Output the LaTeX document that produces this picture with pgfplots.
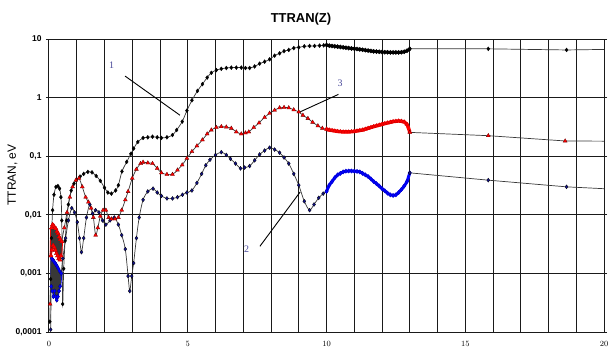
\documentclass[border=0pt]{standalone}
\usepackage{fontspec}
\setmainfont{Liberation Sans}
\newfontfamily\annfont{Liberation Serif}
\usepackage{pgfplots}
\usepackage{pgfplotstable}
\pgfplotsset{compat=1.18}
\definecolor{gridc}{HTML}{1A1A1A}
\definecolor{linec}{HTML}{383838}
\definecolor{navy}{HTML}{10108A}
\definecolor{annc}{HTML}{4A4A9A}
% dense sections (z = 10 ... 13)
\pgfplotstableread{
z    s1    s3     s2
10.0 7.9   0.29   0.025
10.1 7.7   0.28   0.032
10.2 7.6   0.275  0.037
10.3 7.5   0.27   0.043
10.4 7.4   0.265  0.048
10.5 7.3   0.262  0.051
10.6 7.2   0.26   0.054
10.7 7.1   0.26   0.0556
10.8 7.0   0.26   0.056
10.9 6.9   0.262  0.056
11.0 6.85  0.265  0.0556
11.1 6.75  0.27   0.055
11.2 6.65  0.275  0.054
11.3 6.55  0.28   0.051
11.4 6.45  0.29   0.048
11.5 6.35  0.3    0.045
11.6 6.25  0.31   0.041
11.7 6.15  0.32   0.037
11.8 6.1   0.33   0.034
11.9 6.05  0.34   0.031
12.0 6.0   0.35   0.028
12.1 5.95  0.36   0.0257
12.2 5.95  0.37   0.0234
12.3 5.9   0.38   0.0219
12.4 5.9   0.39   0.0214
12.5 5.9   0.395  0.0219
12.6 5.9   0.4    0.024
12.7 5.95  0.395  0.027
12.8 6.05  0.385  0.031
12.9 6.3   0.35   0.037
13.0 6.8   0.26   0.052
}\dense
% dense oscillating start (z = 0 ... 0.46)
\pgfplotstableread{
z    r
0.07 0.002
0.09 0.006
0.11 0.0025
0.13 0.0068
0.15 0.003
0.17 0.0065
0.19 0.0028
0.21 0.006
0.23 0.0025
0.25 0.0058
0.27 0.0022
0.29 0.0052
0.31 0.002
0.33 0.0048
0.35 0.0018
0.37 0.0042
0.39 0.0017
0.41 0.0038
0.43 0.002
0.46 0.0035
}\clusterR
\pgfplotstableread{
z    b
0.08 0.0006
0.1  0.0018
0.12 0.0005
0.14 0.0017
0.16 0.0004
0.18 0.0016
0.2  0.0005
0.22 0.0015
0.24 0.0004
0.26 0.0014
0.28 0.00035
0.30 0.0013
0.32 0.0004
0.34 0.0012
0.36 0.0005
0.38 0.0011
0.40 0.0006
0.44 0.001
}\clusterB
\begin{document}
\begin{tikzpicture}
\begin{axis}[
  at={(0,0)}, anchor=south west,
  scale only axis, width=555bp, height=293bp,
  xmin=0, xmax=20, ymin=1e-4, ymax=10, ymode=log,
  xtick={0,5,10,15,20},
  minor xtick={1,2,3,4,6,7,8,9,11,12,13,14,16,17,18,19},
  ytick={1e-4,1e-3,1e-2,1e-1,1,10},
  yticklabels={{0,0001},{0,001},{0,01},{0,1},1,10},
  yminorticks=false,
  xmajorgrids, xminorgrids, ymajorgrids,
  major grid style={gridc, line width=1bp},
  minor grid style={gridc, line width=1bp},
  axis line style={gridc, line width=1bp},
  tick align=outside,
  xtick style={draw=none},
  minor x tick style={draw=none},
  ytick style={gridc, line width=0.9bp},
  major tick length=3bp,
  ticklabel style={font=\bfseries\fontsize{8.5}{9}\selectfont},
  xticklabel style={yshift=-3bp},
  yticklabel style={xshift=-1bp},
  clip=true,
  every axis plot/.append style={line width=0.7bp},
]
% ---- Series 1 (black diamonds) ----
\addplot[linec, smooth, mark=diamond*, mark size=2bp, mark options={fill=black, draw=black, line width=0.3bp}] coordinates {
(0.03,0.00015) (0.06,0.0008) (0.09,0.004) (0.13,0.012) (0.18,0.022) (0.25,0.03) (0.32,0.031) (0.38,0.028) (0.43,0.02) (0.46,0.008) (0.49,0.0003) (0.53,0.0012) (0.58,0.0036) (0.64,0.008) (0.7,0.015) (0.8,0.026) (0.9,0.034) (1.0,0.04) (1.12,0.045) (1.25,0.05) (1.4,0.054) (1.55,0.053) (1.7,0.046) (1.85,0.038) (2.0,0.029) (2.12,0.024) (2.25,0.023) (2.4,0.026) (2.5,0.032) (2.63,0.055) (2.8,0.08) (2.95,0.11) (3.05,0.135) (3.2,0.175) (3.39,0.205) (3.56,0.21) (3.73,0.215) (3.9,0.21) (4.05,0.205) (4.25,0.21) (4.45,0.23) (4.6,0.28) (4.8,0.39) (4.97,0.6) (5.15,0.9) (5.35,1.3) (5.53,1.7) (5.7,2.2) (5.85,2.65) (6.03,2.95) (6.21,3.1) (6.39,3.2) (6.57,3.25) (6.75,3.25) (6.93,3.25) (7.08,3.2) (7.23,3.2) (7.41,3.4) (7.59,3.8) (7.77,4.1) (7.95,4.5) (8.13,5.2) (8.31,5.7) (8.47,6.2) (8.64,6.5) (8.82,7.0) (9.0,7.2) (9.2,7.5) (9.39,7.6) (9.57,7.6) (9.75,7.7) (9.9,7.8) (10.0,7.9)
};
\addplot[black, smooth, line width=3bp] table[x=z, y=s1] {\dense};
\addplot[black, only marks, mark=diamond*, mark size=2.2bp, mark options={fill=black, draw=black, line width=0.3bp}] table[x=z, y=s1] {\dense};
\addplot[linec, sharp plot, mark=diamond*, mark size=2bp, mark options={fill=black, draw=black, line width=0.3bp}] coordinates {
(13.0,6.8) (15.83,6.8) (18.65,6.5) (20.6,6.7)
};
% ---- Series 2 (blue diamonds) ----
\addplot[blue, sharp plot, line width=2.2bp] table[x=z, y=b] {\clusterB};
\addplot[linec, smooth, mark=diamond*, mark size=2bp, mark options={fill=navy, draw=black, line width=0.3bp}] coordinates {
(0.06,0.00011) (0.08,0.0006) (0.1,0.0018) (0.12,0.0005) (0.14,0.0017) (0.16,0.0004) (0.18,0.0016) (0.2,0.0005) (0.22,0.0015) (0.24,0.0004) (0.26,0.0014) (0.28,0.00035) (0.30,0.0013) (0.32,0.0004) (0.34,0.0012) (0.36,0.0005) (0.38,0.0011) (0.40,0.0006) (0.44,0.001) (0.5,0.0018) (0.6,0.004) (0.7,0.008) (0.82,0.013) (0.92,0.011) (1.02,0.0075) (1.1,0.004) (1.17,0.0023) (1.25,0.004) (1.35,0.009) (1.47,0.015) (1.57,0.0105) (1.68,0.012) (1.8,0.011) (1.93,0.008) (2.05,0.0068) (2.2,0.008) (2.35,0.009) (2.5,0.0068) (2.62,0.0045) (2.75,0.0026) (2.85,0.0009) (2.91,0.0005) (2.98,0.0009) (3.05,0.0015) (3.15,0.004) (3.25,0.009) (3.39,0.018) (3.56,0.025) (3.75,0.028) (3.9,0.024) (4.05,0.021) (4.25,0.019) (4.45,0.019) (4.63,0.02) (4.81,0.022) (4.97,0.024) (5.15,0.026) (5.33,0.035) (5.5,0.05) (5.65,0.07) (5.8,0.087) (6.0,0.105) (6.21,0.117) (6.39,0.105) (6.54,0.09) (6.72,0.075) (6.9,0.062) (7.05,0.064) (7.23,0.068) (7.41,0.085) (7.59,0.107) (7.77,0.125) (7.95,0.14) (8.13,0.13) (8.31,0.115) (8.47,0.095) (8.64,0.075) (8.82,0.05) (9.0,0.032) (9.2,0.017) (9.39,0.012) (9.55,0.015) (9.72,0.0195) (9.88,0.023) (10.0,0.025)
};
\addplot[blue, only marks, mark=diamond*, mark size=2bp, mark options={fill=blue, draw=blue!75!black, line width=0.3bp}] table[x=z, y=b] {\clusterB};
\addplot[blue, smooth, line width=3bp] table[x=z, y=s2] {\dense};
\addplot[blue, only marks, mark=diamond*, mark size=2.2bp, mark options={fill=blue, draw=blue!75!black, line width=0.3bp}] table[x=z, y=s2] {\dense};
\addplot[linec, sharp plot, mark=diamond*, mark size=2bp, mark options={fill=navy, draw=black, line width=0.3bp}] coordinates {
(13.0,0.052) (15.83,0.039) (18.65,0.030) (20.6,0.027)
};
% ---- Series 3 (red triangles) ----
\addplot[red, sharp plot, line width=2.5bp] table[x=z, y=r] {\clusterR};
\addplot[linec, smooth, mark=triangle*, mark size=2.3bp, mark options={fill=red, draw=black!60!red, line width=0.3bp}] coordinates {
(0.04,0.0003) (0.07,0.002) (0.09,0.006) (0.11,0.0025) (0.13,0.0068) (0.15,0.003) (0.17,0.0065) (0.19,0.0028) (0.21,0.006) (0.23,0.0025) (0.25,0.0058) (0.27,0.0022) (0.29,0.0052) (0.31,0.002) (0.33,0.0048) (0.35,0.0018) (0.37,0.0042) (0.39,0.0017) (0.41,0.0038) (0.43,0.002) (0.46,0.0035) (0.55,0.006) (0.65,0.011) (0.75,0.02) (0.85,0.03) (0.97,0.039) (1.08,0.042) (1.2,0.03) (1.32,0.02) (1.42,0.0165) (1.52,0.013) (1.6,0.009) (1.68,0.0045) (1.76,0.006) (1.85,0.0095) (1.95,0.012) (2.05,0.012) (2.15,0.009) (2.25,0.0085) (2.38,0.0085) (2.5,0.009) (2.62,0.012) (2.75,0.018) (2.85,0.025) (3.0,0.042) (3.15,0.06) (3.3,0.075) (3.39,0.079) (3.56,0.077) (3.73,0.075) (3.9,0.062) (4.05,0.052) (4.25,0.049) (4.45,0.049) (4.63,0.058) (4.8,0.071) (4.97,0.092) (5.15,0.12) (5.33,0.15) (5.53,0.19) (5.7,0.24) (5.85,0.28) (6.03,0.31) (6.21,0.32) (6.39,0.315) (6.57,0.3) (6.75,0.26) (6.93,0.24) (7.08,0.25) (7.2,0.26) (7.38,0.31) (7.57,0.37) (7.77,0.46) (7.95,0.54) (8.13,0.61) (8.31,0.67) (8.47,0.68) (8.64,0.67) (8.82,0.62) (9.0,0.57) (9.15,0.5) (9.33,0.44) (9.5,0.38) (9.69,0.33) (9.85,0.3) (10.0,0.29)
};
\addplot[red, only marks, mark=triangle*, mark size=2.3bp, mark options={fill=red, draw=red!80!black, line width=0.3bp}] table[x=z, y=r] {\clusterR};
\addplot[red, smooth, line width=3.5bp] table[x=z, y=s3] {\dense};
\addplot[red, only marks, mark=triangle*, mark size=2.3bp, mark options={fill=red, draw=red!80!black, line width=0.3bp}] table[x=z, y=s3] {\dense};
\addplot[linec, sharp plot, mark=triangle*, mark size=2.3bp, mark options={fill=red, draw=black!60!red, line width=0.3bp}] coordinates {
(13.0,0.255) (15.83,0.224) (18.6,0.182) (20.6,0.18)
};
% ---- annotations ----
\draw[black, line width=0.9bp] (axis cs:2.74,2.33) -- (axis cs:4.72,0.50);
\draw[black, line width=0.9bp] (axis cs:10.43,1.135) -- (axis cs:9.05,0.571);
\draw[black, line width=0.9bp] (axis cs:7.6,0.0029) -- (axis cs:9.05,0.0245);
\node[annc, font=\annfont\fontsize{10}{12}\selectfont] at (axis cs:2.26,3.6) {1};
\node[annc, font=\annfont\fontsize{10}{12}\selectfont] at (axis cs:10.49,1.75) {3};
\node[annc, font=\annfont\fontsize{10}{12}\selectfont] at (axis cs:7.12,0.00254) {2};
\end{axis}
\node[font=\bfseries\fontsize{13}{15}\selectfont] at (252bp,313bp) {TTRAN(Z)};
\node[rotate=90, font=\fontsize{12}{14}\selectfont] at (-36.5bp,157bp) {TTRAN, eV};
\pgfresetboundingbox
\path[use as bounding box] (-49bp,-19bp) rectangle (559bp,332bp);
\end{tikzpicture}
\end{document}
